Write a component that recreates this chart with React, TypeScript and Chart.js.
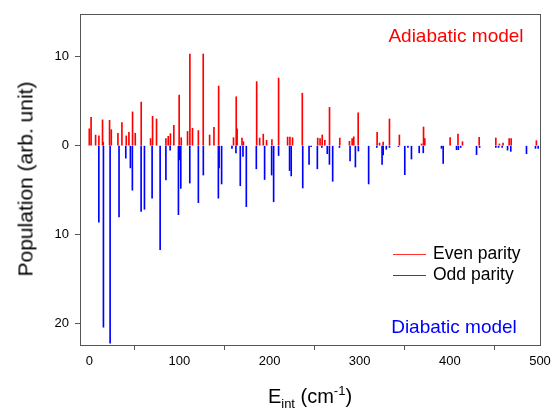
import React, { useEffect, useRef } from "react";
import { Chart, registerables } from "chart.js";

Chart.register(...registerables);

// Even parity levels: energy (cm^-1) and population (upward)
const evenEnergies = [0, 2, 7, 10.7, 14.7, 15.5, 22.5, 24.4, 31.8, 36.2, 41, 44, 48, 51, 57.6, 68, 70.2, 74.6, 85, 87.6, 90, 93.8, 99.7, 102, 109, 111.6, 114.5, 121, 126.4, 133.5, 138.3, 143.5, 160, 163, 164, 169.4, 171, 185.7, 189, 193, 196.7, 202.6, 210, 220, 222.6, 225.5, 236.3, 253.4, 256, 258.4, 261.3, 266.5, 277.9, 288.6, 291.6, 293.4, 298.3, 319.3, 322, 326, 333, 344, 368.6, 370.8, 372.2, 400.3, 409, 414, 432.5, 451, 455, 459, 465.8, 468, 496];
const evenValues = [1.9, 3.2, 1.2, 1.1, 2.9, 0.4, 2.85, 1.8, 1.4, 2.6, 1.1, 1.5, 3.8, 1.4, 4.9, 0.8, 3.3, 3.0, 0.8, 1.05, 1.35, 2.3, 5.7, 0.9, 1.6, 10.3, 1.95, 1.7, 10.3, 1.2, 2.05, 6.7, 0.9, 5.5, 1.9, 0.86, 0.45, 7.2, 0.86, 1.3, 0.6, 0.7, 7.6, 0.97, 0.97, 0.9, 5.9, 0.86, 0.8, 1.2, 0.6, 4.3, 0.86, 0.5, 0.8, 1.0, 3.7, 1.5, 0.3, 0.4, 3.0, 1.2, 0.2, 2.1, 0.8, 0.9, 1.3, 0.45, 0.94, 0.86, 0.2, 0.3, 0.8, 0.8, 0.56];

// Odd parity levels: energy (cm^-1) and population (drawn downward)
const oddEnergies = [10.6, 15.7, 23.1, 33, 40.5, 45.6, 47.8, 57.5, 61.2, 69.7, 78.6, 85, 89.7, 98.9, 100, 101.5, 111.5, 121, 126.5, 143.2, 144, 146.8, 158.3, 162.7, 167.5, 170.5, 174.2, 185.3, 194.5, 202.3, 204.5, 210, 222.2, 224, 236.8, 243.8, 246, 253, 258, 264, 266.4, 270, 277.5, 289.3, 295.2, 298.5, 309.9, 319, 324.8, 326, 329.5, 333, 343, 350, 353.5, 357.4, 366, 370.5, 390.7, 392.6, 407.4, 409.4, 412, 429.6, 433, 451, 454, 458, 464, 467.6, 485, 495, 498];
const oddValues = [8.6, 20.4, 22.2, 8.0, 1.4, 2.5, 5.0, 7.4, 7.15, 5.9, 11.7, 3.86, 0.5, 7.75, 1.6, 4.8, 4.2, 6.4, 3.3, 5.9, 2.5, 4.3, 0.3, 0.8, 4.5, 1.2, 6.85, 2.6, 3.8, 3.3, 6.3, 1.1, 2.8, 3.4, 4.75, 2.1, 0.1, 2.6, 0.2, 0.9, 2.1, 4.0, 0.2, 1.7, 2.4, 0.6, 4.3, 0.2, 2.1, 1.05, 0.4, 0.2, 0.1, 3.26, 0.2, 1.5, 0.8, 0.8, 0.3, 2.0, 0.45, 0.45, 0.2, 1.0, 0.2, 0.2, 0.2, 0.2, 0.5, 0.64, 0.9, 0.3, 0.3];

const xTicks = [0, 100, 200, 300, 400, 500];
const yTicks = [-20, -10, 0, 10];

const FONT = "'Liberation Sans', Arial, sans-serif";

export default function App() {
  const canvasRef = useRef<HTMLCanvasElement | null>(null);

  useEffect(() => {
    if (!canvasRef.current) return;
    const boxPlugin = {
      id: "box",
      afterDraw(chart: any) {
        const { ctx, chartArea } = chart;
        ctx.save();
        ctx.strokeStyle = "#555";
        ctx.lineWidth = 1;
        ctx.strokeRect(
          Math.round(chartArea.left) + 0.5,
          Math.round(chartArea.top) + 0.5,
          Math.round(chartArea.right - chartArea.left),
          Math.round(chartArea.bottom - chartArea.top)
        );
        ctx.restore();
      },
    };
    const chart = new Chart(canvasRef.current, {
      type: "bar",
      data: {
        datasets: [
          {
            label: "Even parity",
            data: evenEnergies.map((e, i) => ({ x: e, y: evenValues[i] })),
            backgroundColor: "#ff0000",
            barThickness: 1,
            grouped: false,
          } as any,
          {
            label: "Odd parity",
            data: oddEnergies.map((e, i) => ({ x: e, y: -oddValues[i] })),
            backgroundColor: "#0000ff",
            barThickness: 1,
            grouped: false,
          } as any,
        ],
      },
      options: {
        animation: false,
        responsive: false,
        maintainAspectRatio: false,
        layout: { padding: { top: 14, right: 15, left: 0, bottom: 0 } },
        plugins: { legend: { display: false }, tooltip: { enabled: false } },
        scales: {
          x: {
            type: "linear",
            min: -10.3,
            max: 500,
            offset: false,
            afterBuildTicks: (s: any) => {
              s.ticks = xTicks.map((v) => ({ value: v }));
            },
            afterFit: (s: any) => {
              s.height = 67;
            },
            ticks: {
              color: "#000",
              font: { family: FONT, size: 13 },
              padding: 4,
              maxRotation: 0,
            },
            grid: {
              display: true,
              drawOnChartArea: false,
              drawTicks: true,
              tickLength: 5,
              color: "#555",
            },
            border: { display: false },
          },
          y: {
            type: "linear",
            min: -22.4,
            max: 14.8,
            afterBuildTicks: (s: any) => {
              s.ticks = yTicks.map((v) => ({ value: v }));
            },
            afterFit: (s: any) => {
              s.width = 80;
            },
            ticks: {
              color: "#000",
              font: { family: FONT, size: 13 },
              padding: 6,
              callback: (v: any) => String(Math.abs(Number(v))),
            },
            grid: {
              display: true,
              drawOnChartArea: false,
              drawTicks: true,
              tickLength: 5,
              color: "#555",
            },
            border: { display: false },
          },
        },
      },
      plugins: [boxPlugin],
    });
    return () => chart.destroy();
  }, []);

  const abs = (o: React.CSSProperties): React.CSSProperties => ({
    position: "absolute",
    whiteSpace: "nowrap",
    fontFamily: FONT,
    lineHeight: 1,
    ...o,
  });

  return (
    <div style={{ position: "absolute", left: 0, top: 0, width: 555, height: 412, background: "#fff" }}>
      <canvas ref={canvasRef} width={555} height={412} style={{ position: "absolute", left: 0, top: 0 }} />
      <div style={abs({ left: 25, top: 179, fontSize: 21, color: "#000", transform: "translate(-50%,-50%) rotate(-90deg)" })}>
        Population (arb. unit)
      </div>
      <div style={abs({ left: 310, top: 397, fontSize: 20, color: "#000", transform: "translate(-50%,-50%)" })}>
        E<sub style={{ fontSize: 13 }}>int</sub> (cm<sup style={{ fontSize: 13 }}>-1</sup>)
      </div>
      <div style={abs({ left: 456, top: 35, fontSize: 19, color: "#ff0000", transform: "translate(-50%,-50%)" })}>
        Adiabatic model
      </div>
      <div style={abs({ left: 454, top: 326, fontSize: 19, color: "#0000ff", transform: "translate(-50%,-50%)" })}>
        Diabatic model
      </div>
      <div style={abs({ left: 393, top: 254, width: 33, height: 1, background: "#ff3030" })} />
      <div style={abs({ left: 433, top: 254, fontSize: 17.5, color: "#000", transform: "translateY(-50%)" })}>
        Even parity
      </div>
      <div style={abs({ left: 393, top: 275, width: 33, height: 1, background: "#3030ff" })} />
      <div style={abs({ left: 433, top: 275, fontSize: 17.5, color: "#000", transform: "translateY(-50%)" })}>
        Odd parity
      </div>
    </div>
  );
}
